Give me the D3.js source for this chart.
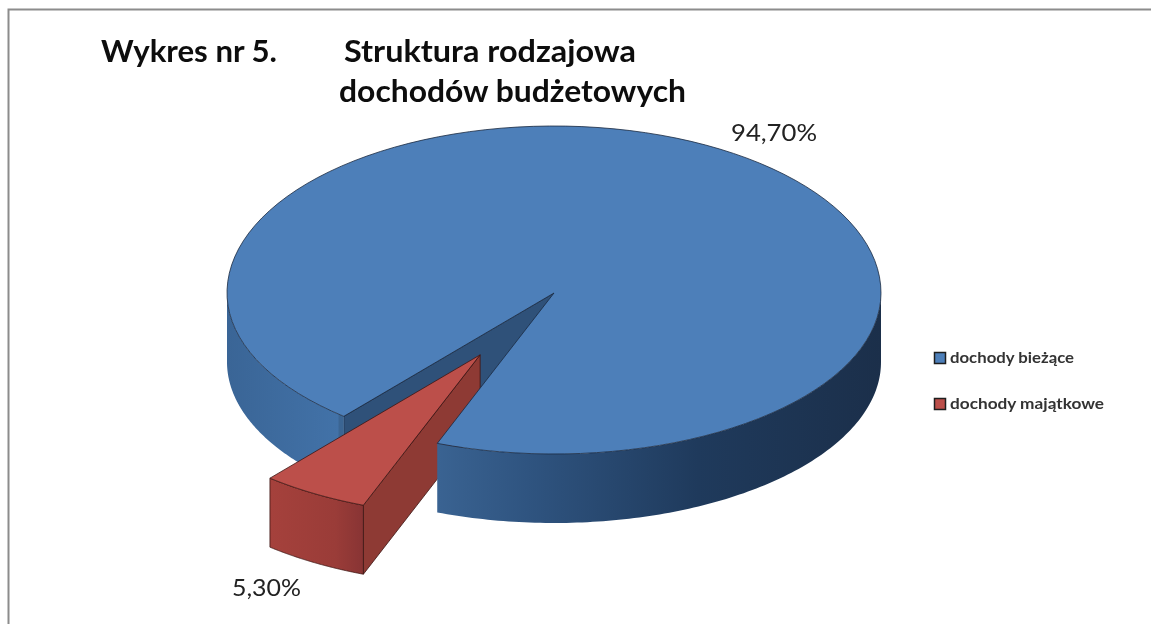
<!DOCTYPE html>
<html><head><meta charset="utf-8">
<style>html,body{margin:0;padding:0;background:#fff;overflow:hidden}svg{display:block;filter:blur(0.5px)}</style>
<script src="https://cdn.jsdelivr.net/npm/d3@7/dist/d3.min.js"></script>
</head><body><svg id="c" width="1151" height="624"></svg>
<script>
const categories = ["dochody bieżące", "dochody majątkowe"];
const values = [94.7, 5.3];
const valueLabels = ["94,70%", "5,30%"];
const titleLines = ["Wykres nr 5.", "Struktura rodzajowa", "dochodów budżetowych"];

const svg = d3.select("#c");
const x = d3.scaleLinear().domain([-1, 1]).range([227, 881]);
const y = d3.scaleLinear().domain([-1, 0, 1]).range([126, 293, 454]);
const depth = 69;
const explode = 0.4456;
const rotation = 220 * Math.PI / 180;
const slices = d3.pie().sort(null).startAngle(rotation).endAngle(rotation + 2 * Math.PI)(values);
const [blue, red] = slices;
const mid = (red.startAngle + red.endAngle) / 2;
const ox = Math.sin(mid) * explode, oy = -Math.cos(mid) * explode;
const line = d3.line().x(d => d[0]).y(d => d[1]);
const pt = (a, dx = 0, dy = 0, r = 1) => [x(Math.sin(a) * r + dx), y(-Math.cos(a) * r + dy)];
const arcPts = (a0, a1, dx, dy) => d3.range(0, 121).map(i => pt(a0 + (a1 - a0) * i / 120, dx, dy));
const down = pts => pts.map(p => [p[0], p[1] + depth]);

const defs = svg.append("defs");
function grad(id, x1, x2, stops) {
  const g = defs.append("linearGradient").attr("id", id).attr("gradientUnits", "userSpaceOnUse")
    .attr("x1", x1).attr("x2", x2).attr("y1", 0).attr("y2", 0);
  stops.forEach(s => g.append("stop").attr("offset", s[0]).attr("stop-color", s[1]));
}
grad("bw", x(-1), x(1), [[0, "#3a6596"], [0.17, "#4272a8"], [0.171, "#3b6593"], [0.32, "#3a6392"], [0.46, "#2f5480"], [0.72, "#1f3a5c"], [1, "#1b2f4a"]]);
const rx0 = x(ox + Math.sin(red.endAngle)), rx1 = x(ox + Math.sin(red.startAngle));
grad("rw", rx0, rx1, [[0, "#a5413c"], [0.7, "#9a3c38"], [1, "#883434"]]);

const edge = "#1a2a40", edgeW = 0.8;
svg.append("path").attr("d", "M1151,9.5H8.5V624").attr("fill", "none").attr("stroke", "#8c8c8c").attr("stroke-width", 2);

const aL = blue.startAngle, aR = blue.endAngle - 2 * Math.PI;
const c = pt(0, 0, 0, 0), pL = pt(aL);
svg.append("path").attr("d", line([pL, c, [c[0], c[1] + depth], [pL[0], pL[1] + depth]]) + "Z")
  .attr("fill", "#2f5179").attr("stroke", edge).attr("stroke-width", edgeW);
const wallL = arcPts(aL, 1.5 * Math.PI, 0, 0);
svg.append("path").attr("d", line(wallL.concat(down(wallL).reverse())) + "Z")
  .attr("fill", "url(#bw)").attr("stroke", "none");

const rc = pt(0, ox, oy, 0);
const rTop = arcPts(red.startAngle, red.endAngle, ox, oy);
const rA = rTop[0];
svg.append("path").attr("d", line([rc, rA, [rA[0], rA[1] + depth], [rc[0], rc[1] + depth]]) + "Z")
  .attr("fill", "#8e3a34").attr("stroke", "#3c1513").attr("stroke-width", edgeW);
svg.append("path").attr("d", line(rTop.concat(down(rTop).reverse())) + "Z")
  .attr("fill", "url(#rw)").attr("stroke", "#3c1513").attr("stroke-width", edgeW);
svg.append("path").attr("d", line([rc].concat(rTop)) + "Z")
  .attr("fill", "#bc4f4a").attr("stroke", "#3c1513").attr("stroke-width", edgeW);

const wallR = arcPts(Math.PI / 2, aR, 0, 0);
svg.append("path").attr("d", line(wallR.concat(down(wallR).reverse())) + "Z")
  .attr("fill", "url(#bw)").attr("stroke", "none");
const bTop = arcPts(blue.startAngle, blue.endAngle, 0, 0);
svg.append("path").attr("d", line([c].concat(bTop)) + "Z")
  .attr("fill", "#4d7fb9").attr("stroke", edge).attr("stroke-width", edgeW);

const font = "Lato, 'Open Sans', sans-serif";
svg.selectAll("text.t").data(titleLines).join("text").attr("class", "t")
  .attr("x", (d, i) => [101, 344, 339][i]).attr("y", (d, i) => [62, 62, 102][i])
  .attr("textLength", (d, i) => [176, 292, 347][i]).attr("lengthAdjust", "spacingAndGlyphs")
  .attr("font-family", font).attr("font-weight", 700).attr("font-size", 30).attr("fill", "#0d0d0d").text(d => d);

svg.selectAll("text.v").data(valueLabels).join("text").attr("class", "v")
  .attr("x", (d, i) => [731, 232][i]).attr("y", (d, i) => [141, 596][i])
  .attr("textLength", (d, i) => [86, 69][i]).attr("lengthAdjust", "spacingAndGlyphs")
  .attr("font-family", font).attr("font-size", 24).attr("fill", "#222").text(d => d);

const legendY = d3.scalePoint().domain(categories).range([358, 404]);
const fills = ["#4d7fb9", "#bc4f4a"];
const lg = svg.selectAll("g.l").data(categories).join("g").attr("class", "l")
  .attr("transform", d => `translate(934,${legendY(d)})`);
lg.append("rect").attr("x", 0.5).attr("y", -5.5).attr("width", 11).attr("height", 11)
  .attr("fill", (d, i) => fills[i]).attr("stroke", "#1e1e1e").attr("stroke-width", 1.5);
lg.append("text").attr("x", 16).attr("y", 5).attr("font-family", font).attr("font-size", 14.5)
  .attr("textLength", (d, i) => [124, 154][i]).attr("lengthAdjust", "spacingAndGlyphs")
  .attr("font-weight", 700).attr("fill", "#333").text(d => d);
</script></body></html>
